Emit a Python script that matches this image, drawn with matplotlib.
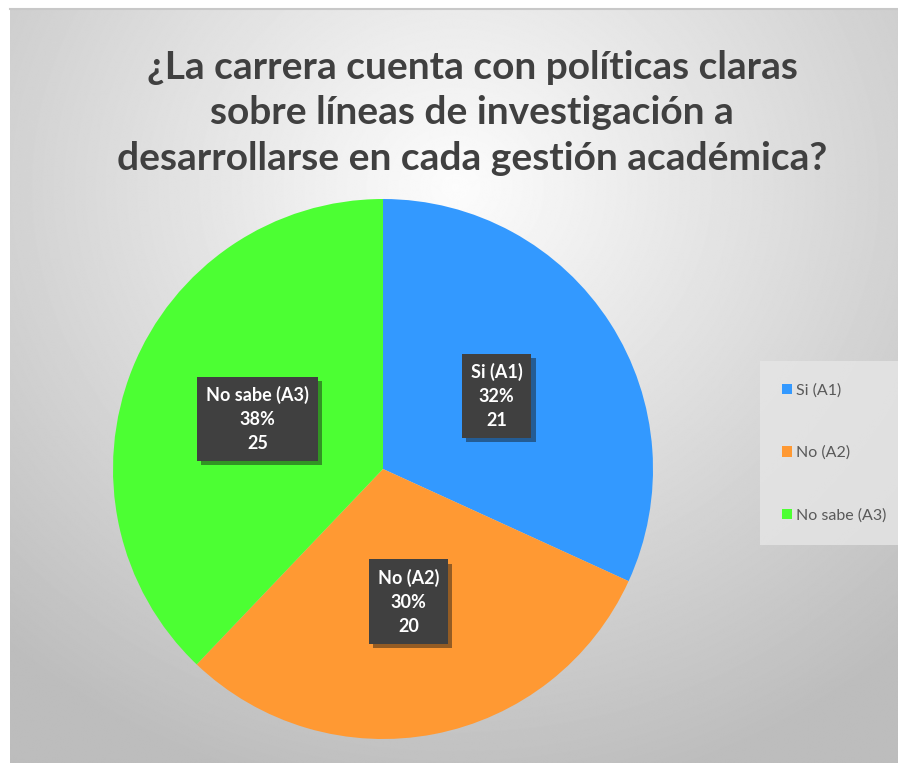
import matplotlib
matplotlib.use("Agg")
import matplotlib.pyplot as plt
import matplotlib.patheffects as pe
import numpy as np

plt.rcParams['font.family'] = ['Lato', 'DejaVu Sans']

categories = ["Si (A1)", "No (A2)", "No sabe (A3)"]
counts = [21, 20, 25]
colors = ["#3399FF", "#FF9933", "#4CFF33"]
title = "¿La carrera cuenta con políticas claras\nsobre líneas de investigación a\ndesarrollarse en cada gestión académica?"

W, H = 898, 763
fig = plt.figure(figsize=(W / 100, H / 100), dpi=100)

# background: soft radial gradient inside a thin frame
bg = fig.add_axes([0, 0, 1, 1])
bg.set_xlim(0, W)
bg.set_ylim(H, 0)
bg.axis("off")
yy, xx = np.mgrid[0:H, 0:W]
d = np.sqrt(((xx - 450) / 650.0) ** 2 + ((yy - 180) / 600.0) ** 2)
val = np.clip(0.99 - 0.24 * d, 0.74, 1.0)
bg.imshow(val, cmap="gray", vmin=0, vmax=1, extent=(10, W, H, 9), zorder=0)
bg.plot([10, W], [9, 9], color="#c8c8c8", lw=1.5, zorder=1)

ax = fig.add_axes([110 / W, 1 - 739 / H, 546 / W, 540 / H])
wedges, texts, autotexts = ax.pie(
    counts, colors=colors, startangle=90, counterclock=False,
    autopct="%1.0f%%", pctdistance=0.5, radius=1.0,
    wedgeprops=dict(linewidth=0))
ax.set_xlim(-1, 1)
ax.set_ylim(-1, 1)
ax.set_aspect("equal")

for at, lab, n in zip(autotexts, categories, counts):
    at.set_text(f"{lab}\n{at.get_text()}\n{n}")
    at.set_color("white")
    at.set_fontweight("bold")
    at.set_fontsize(13)
    at.set_linespacing(1.5)
    at.set_bbox(dict(boxstyle="square,pad=0.5", facecolor="#404040", edgecolor="none"))
    at.get_bbox_patch().set_path_effects(
        [pe.SimplePatchShadow(offset=(3, -3), alpha=0.45), pe.Normal()])

fig.text(472 / W, 1 - 113 / H, title, ha="center", va="center", fontsize=28,
         fontweight="bold", color="#404040", linespacing=1.35)

leg = fig.legend(wedges, categories, loc="center left",
                 bbox_to_anchor=(752 / W, 1 - 453 / H), frameon=True,
                 fontsize=11.5, handlelength=0.6, handleheight=0.6,
                 handletextpad=0.25, labelspacing=3.0, borderpad=1.4,
                 fancybox=False)
leg.get_frame().set_facecolor("#e6e6e6")
leg.get_frame().set_edgecolor("none")
leg.get_frame().set_alpha(0.8)
for t in leg.get_texts():
    t.set_color("#595959")

fig.savefig("out.png", dpi=100)
